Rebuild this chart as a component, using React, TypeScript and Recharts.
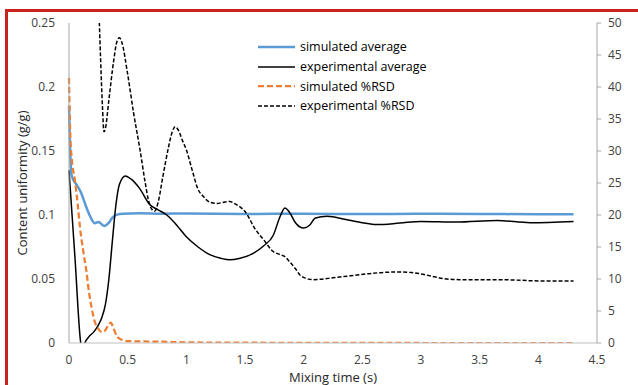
import { LineChart, Line, XAxis, YAxis, Label, Legend } from "recharts";

// time (s) / value pairs
const simAverage: [number, number][] = [
  [0, 0.185], [0.01, 0.15], [0.02, 0.132], [0.04, 0.127], [0.07, 0.123],
  [0.1, 0.118], [0.14, 0.108], [0.18, 0.099], [0.22, 0.0935], [0.25, 0.0945],
  [0.3, 0.0915], [0.34, 0.094], [0.37, 0.098], [0.41, 0.1003], [0.46, 0.101],
  [0.6, 0.1013], [0.8, 0.101], [1.0, 0.1012], [1.5, 0.1008], [2.0, 0.101],
  [2.5, 0.1007], [3.0, 0.101], [3.5, 0.1008], [4.0, 0.1006], [4.3, 0.1006],
];

const expAverage: [number, number][] = [
  [0, 0.135], [0.05, 0.068], [0.1, 0], [0.115, -0.006], [0.135, 0],
  [0.17, 0.005], [0.21, 0.0085], [0.25, 0.014], [0.28, 0.02], [0.31, 0.03],
  [0.34, 0.05], [0.37, 0.08], [0.4, 0.108], [0.43, 0.124], [0.48, 0.1305],
  [0.53, 0.128], [0.6, 0.121], [0.69, 0.108], [0.76, 0.104], [0.83, 0.1002],
  [0.9, 0.094], [1.0, 0.083], [1.1, 0.075], [1.2, 0.069], [1.3, 0.066],
  [1.37, 0.065], [1.45, 0.066], [1.57, 0.07], [1.66, 0.076], [1.74, 0.084],
  [1.8, 0.099], [1.84, 0.1055], [1.88, 0.102], [1.93, 0.094], [2.0, 0.0898],
  [2.05, 0.092], [2.1, 0.0977], [2.2, 0.099], [2.37, 0.0963], [2.5, 0.094],
  [2.62, 0.0925], [2.82, 0.0937], [3.0, 0.095], [3.3, 0.0945], [3.65, 0.0958],
  [3.93, 0.094], [4.3, 0.095],
];

const simRsd: [number, number][] = [
  [0, 41.4], [0.01, 33], [0.025, 28.5], [0.05, 25.5], [0.075, 21.5],
  [0.094, 18], [0.12, 14.5], [0.15, 11], [0.17, 8], [0.193, 5.5],
  [0.22, 3.3], [0.25, 2.2], [0.28, 1.7], [0.3, 1.8], [0.33, 2.6],
  [0.355, 3.2], [0.38, 2.3], [0.41, 1.0], [0.45, 0.5], [0.5, 0.3],
  [0.6, 0.25], [0.8, 0.2], [1.0, 0.1], [1.5, 0.05], [2.0, 0.02],
  [3.0, 0], [4.3, 0],
];

const expRsd: [number, number][] = [
  [0.255, 52], [0.27, 44], [0.285, 37], [0.298, 33], [0.31, 33.5],
  [0.34, 38], [0.38, 44], [0.41, 47.2], [0.43, 47.7], [0.45, 47],
  [0.5, 42], [0.55, 36], [0.605, 30.2], [0.65, 25], [0.676, 22.4],
  [0.71, 20.8], [0.73, 20.6], [0.76, 22], [0.8, 26], [0.847, 30.5],
  [0.88, 33], [0.905, 33.8], [0.93, 33.3], [0.97, 31.5], [1.0, 30.2],
  [1.05, 27], [1.1, 24], [1.145, 22.9], [1.2, 22], [1.26, 21.8],
  [1.32, 22], [1.37, 22.1], [1.42, 21.7], [1.51, 20.3], [1.58, 18],
  [1.66, 16.1], [1.74, 14.3], [1.8, 13.8], [1.84, 13.5], [1.88, 12.7],
  [1.93, 11.6], [1.97, 10.6], [2.02, 10.1], [2.08, 9.9], [2.14, 9.95],
  [2.25, 10.2], [2.4, 10.5], [2.54, 10.8], [2.7, 11.05], [2.82, 11.1],
  [2.92, 11.0], [3.0, 10.8], [3.1, 10.4], [3.2, 10.05], [3.33, 9.9],
  [3.5, 9.9], [3.67, 9.9], [3.85, 9.8], [4.0, 9.7], [4.3, 9.7],
];

const xTicks = [0, 0.5, 1, 1.5, 2, 2.5, 3, 3.5, 4, 4.5];
const leftTicks = [0, 0.05, 0.1, 0.15, 0.2, 0.25];
const rightTicks = [0, 5, 10, 15, 20, 25, 30, 35, 40, 45, 50];

const toRows = (pts: [number, number][]) => pts.map(([t, v]) => ({ t, v }));

const FONT = "'Open Sans', sans-serif";
const tickStyle = { fill: "#404040", fontSize: 12, fontFamily: FONT };

const legendItems = [
  { name: "simulated average", color: "#5B9BD5", width: 2.5, dash: undefined },
  { name: "experimental average", color: "#000", width: 1.5, dash: undefined },
  { name: "simulated %RSD", color: "#ED7D31", width: 2.25, dash: "6 3" },
  { name: "experimental %RSD", color: "#000", width: 1.5, dash: "4 2" },
];

function ChartLegend() {
  return (
    <div style={{ fontFamily: FONT, fontSize: 12.5, color: "#000" }}>
      {legendItems.map((it) => (
        <div key={it.name} style={{ display: "flex", alignItems: "center", height: 19.7 }}>
          <svg width={37} height={6} style={{ marginRight: 5 }}>
            <line x1={0} y1={3} x2={37} y2={3} stroke={it.color} strokeWidth={it.width} strokeDasharray={it.dash} />
          </svg>
          <span>{it.name}</span>
        </div>
      ))}
    </div>
  );
}

export default function App() {
  return (
    <div style={{ position: "absolute", left: 0, top: 0, width: 638, height: 385, overflow: "hidden", background: "#fff" }}>
      <div style={{ position: "absolute", left: 5, top: 9, width: 700, height: 500, border: "3px solid #c9211e" }} />
      <div style={{ position: "absolute", left: 0, top: 0 }}>
        <LineChart width={638} height={385} margin={{ top: 23, right: 0, bottom: 0, left: 0 }}>
          <XAxis
            type="number"
            dataKey="t"
            domain={[0, 4.5]}
            ticks={xTicks}
            tick={tickStyle}
            tickLine={false}
            tickSize={10}
            axisLine={{ stroke: "#bfbfbf" }}
            height={42}
          >
            <Label value="Mixing time (s)" position="insideBottom" offset={3} style={{ fontSize: 13, fontFamily: FONT, fill: "#262626" }} />
          </XAxis>
          <YAxis
            yAxisId="left"
            domain={[0, 0.25]}
            ticks={leftTicks}
            allowDataOverflow
            tick={tickStyle}
            tickLine={false}
            tickSize={12}
            axisLine={{ stroke: "#a6a6a6" }}
            tickFormatter={(v: number) => String(parseFloat(v.toFixed(2)))}
            width={69}
          >
            <Label value="Content uniformity (g/g)" angle={-90} position="insideLeft" offset={22} style={{ textAnchor: "middle", fontSize: 13, fontFamily: FONT, fill: "#262626" }} />
          </YAxis>
          <YAxis
            yAxisId="right"
            orientation="right"
            domain={[0, 50]}
            ticks={rightTicks}
            allowDataOverflow
            tick={tickStyle}
            tickLine={{ stroke: "#a6a6a6" }}
            tickSize={4}
            tickMargin={7}
            axisLine={{ stroke: "#a6a6a6" }}
            width={41}
          />
          <Legend
            content={() => <ChartLegend />}
            layout="horizontal"
            verticalAlign="middle"
            align="center"
            wrapperStyle={{ left: 258, top: 37, width: 200 }}
          />
          <Line data={toRows(simAverage)} dataKey="v" yAxisId="left" type="monotone" stroke="#5B9BD5" strokeWidth={2.5} dot={false} isAnimationActive={false} />
          <Line data={toRows(expAverage)} dataKey="v" yAxisId="left" type="monotone" stroke="#000" strokeWidth={1.5} dot={false} isAnimationActive={false} />
          <Line data={toRows(simRsd)} dataKey="v" yAxisId="right" type="monotone" stroke="#ED7D31" strokeWidth={2.25} strokeDasharray="6 3" dot={false} isAnimationActive={false} />
          <Line data={toRows(expRsd)} dataKey="v" yAxisId="right" type="monotone" stroke="#000" strokeWidth={1.5} strokeDasharray="4 2" dot={false} isAnimationActive={false} />
        </LineChart>
      </div>
    </div>
  );
}
